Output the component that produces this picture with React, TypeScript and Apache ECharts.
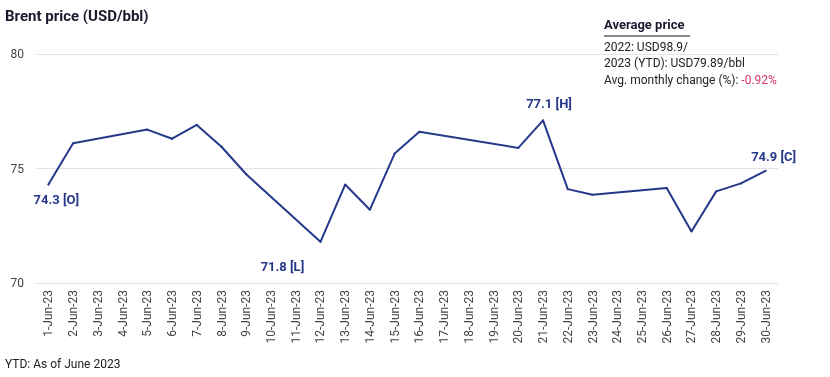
import React, { useEffect, useRef } from "react";
import * as echarts from "echarts";

const categories = [
  "1-Jun-23","2-Jun-23","3-Jun-23","4-Jun-23","5-Jun-23","6-Jun-23","7-Jun-23","8-Jun-23","9-Jun-23","10-Jun-23",
  "11-Jun-23","12-Jun-23","13-Jun-23","14-Jun-23","15-Jun-23","16-Jun-23","17-Jun-23","18-Jun-23","19-Jun-23","20-Jun-23",
  "21-Jun-23","22-Jun-23","23-Jun-23","24-Jun-23","25-Jun-23","26-Jun-23","27-Jun-23","28-Jun-23","29-Jun-23","30-Jun-23",
];
const prices: (number | null)[] = [
  74.3, 76.1, null, null, 76.7, 76.3, 76.9, 75.95, 74.75, null,
  null, 71.8, 74.3, 73.2, 75.65, 76.6, null, null, null, 75.9,
  77.1, 74.1, 73.85, null, null, 74.15, 72.25, 74.0, 74.35, 74.9,
];
const labelled: { idx: number; text: string; pos: "top" | "bottom"; offset: [number, number] }[] = [
  { idx: 0, text: "74.3 [O]", pos: "bottom", offset: [8, 2] },
  { idx: 11, text: "71.8 [L]", pos: "bottom", offset: [-38, 12] },
  { idx: 20, text: "77.1 [H]", pos: "top", offset: [6, -4] },
  { idx: 29, text: "74.9 [C]", pos: "top", offset: [8, -2] },
];
const yTicks = { min: 70, max: 80, interval: 5 };

const FONT = "Roboto, 'Noto Sans', sans-serif";
const NAVY = "#26388a";

export default function App() {
  const ref = useRef<HTMLDivElement>(null);
  useEffect(() => {
    if (!ref.current) return;
    const chart = echarts.init(ref.current, null, { renderer: "svg" });
    const data = prices.map((v, i) => {
      const l = labelled.find((x) => x.idx === i);
      if (!l || v == null) return v;
      return {
        value: v,
        label: {
          show: true,
          position: l.pos,
          offset: l.offset,
          formatter: l.text,
          color: NAVY,
          fontWeight: "bold",
          fontSize: 13,
          fontFamily: FONT,
        },
      };
    });
    chart.setOption({
      animation: false,
      textStyle: { fontFamily: FONT },
      grid: { left: 36, right: 52, top: 54, bottom: 94, containLabel: false },
      xAxis: {
        type: "category",
        data: categories,
        boundaryGap: true,
        axisLine: { show: false },
        axisTick: { show: false },
        axisLabel: { rotate: 90, interval: 0, color: "#444", fontSize: 12, fontFamily: FONT, margin: 7 },
      },
      yAxis: {
        type: "value",
        min: yTicks.min,
        max: yTicks.max,
        interval: yTicks.interval,
        axisLine: { show: false },
        axisTick: { show: false },
        axisLabel: { color: "#444", fontSize: 12, fontFamily: FONT, margin: 12 },
        splitLine: { lineStyle: { color: "#e2e2e2", width: 1 } },
      },
      series: [
        {
          type: "line",
          data,
          connectNulls: true,
          symbol: "circle",
          symbolSize: 2,
          showSymbol: true,
          lineStyle: { color: NAVY, width: 2 },
          itemStyle: { color: NAVY },
          label: { show: false },
        },
      ],
      graphic: [
        { type: "text", left: 5, top: 8, style: { text: "Brent price (USD/bbl)", font: `bold 15px ${FONT}`, fill: "#1a1a2e" } },
        { type: "text", left: 5, top: 358, style: { text: "YTD: As of June 2023", font: `12px ${FONT}`, fill: "#222" } },
        { type: "text", left: 604, top: 18, style: { text: "Average price", font: `bold 13px ${FONT}`, fill: "#1a1a2e" } },
        { type: "rect", shape: { x: 604, y: 35, width: 86, height: 2 }, style: { fill: "#8a8a8a" } },
        { type: "text", left: 604, top: 41, style: { text: "2022: USD98.9/", font: `12px ${FONT}`, fill: "#222" } },
        { type: "text", left: 604, top: 57, style: { text: "2023 (YTD): USD79.89/bbl", font: `12px ${FONT}`, fill: "#222" } },
        {
          type: "text",
          left: 604,
          top: 74,
          style: {
            text: "{a|Avg. monthly change (%): }{b|-0.92%}",
            font: `12px ${FONT}`,
            rich: {
              a: { fill: "#222", font: `12px ${FONT}` },
              b: { fill: "#d6336c", font: `12px ${FONT}` },
            },
          },
        },
      ],
    });
    return () => chart.dispose();
  }, []);
  return <div ref={ref} style={{ position: "fixed", left: 0, top: 0, width: 830, height: 377 }} />;
}
